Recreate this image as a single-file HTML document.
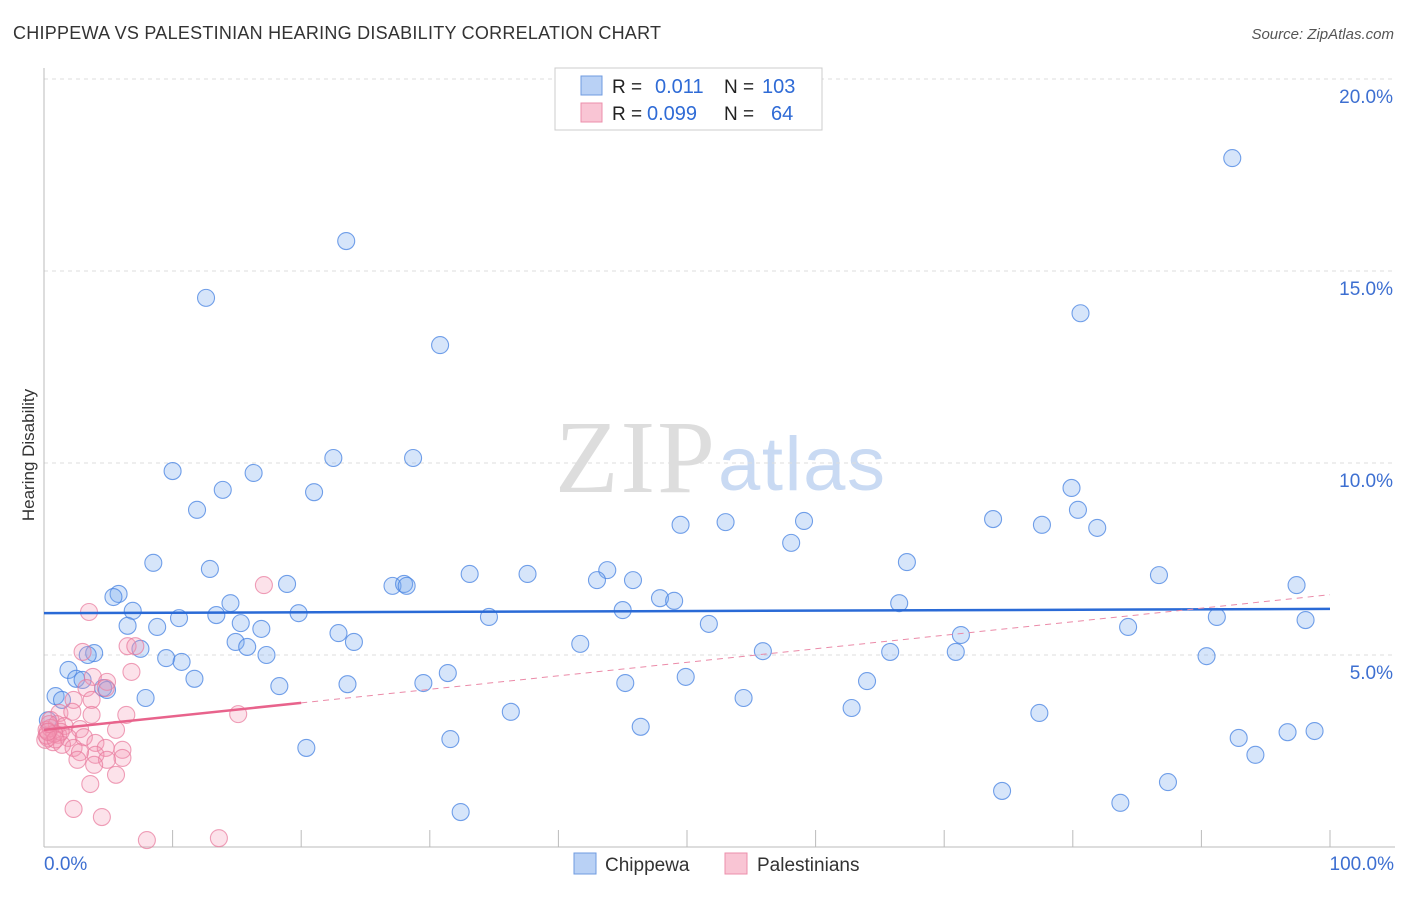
<!DOCTYPE html>
<html><head><meta charset="utf-8"><style>
body{margin:0;background:#fff;font-family:"Liberation Sans",sans-serif;}
svg text{font-family:"Liberation Sans",sans-serif;}
</style></head><body>
<svg id="chart" width="1406" height="892">
<text x="13" y="39" font-size="18" fill="#333" textLength="648">CHIPPEWA VS PALESTINIAN HEARING DISABILITY CORRELATION CHART</text>
<text x="1394" y="39" font-size="15" fill="#555" text-anchor="end" font-style="italic">Source: ZipAtlas.com</text>
<text x="34" y="455" font-size="17" fill="#333" text-anchor="middle" transform="rotate(-90 34 455)">Hearing Disability</text>
<g>
<text x="555" y="492" font-size="104" fill="#ddd" textLength="160" font-family="Liberation Serif" style="font-family:'Liberation Serif',serif">ZIP</text>
<text x="718" y="490" font-size="76" fill="#c9daf3" textLength="167">atlas</text>
</g>
<g id="grid"></g>
<g id="axes"></g>
<g id="marks"></g>
<g>
<rect x="555" y="68" width="267" height="62" fill="#fff" stroke="#ccc"/>
<rect x="581" y="76" width="21" height="19" fill="#b9d1f5" stroke="#6f9be0"/>
<rect x="581" y="103" width="21" height="19" fill="#f9c5d4" stroke="#ec8fab"/>
<text x="612" y="93" font-size="19" fill="#222">R =</text>
<text x="655" y="93" font-size="20" fill="#2f6bd6">0.011</text>
<text x="724" y="93" font-size="19" fill="#222">N =</text>
<text x="762" y="93" font-size="20" fill="#2f6bd6">103</text>
<text x="612" y="120" font-size="19" fill="#222">R =</text>
<text x="647" y="120" font-size="20" fill="#2f6bd6">0.099</text>
<text x="724" y="120" font-size="19" fill="#222">N =</text>
<text x="771" y="120" font-size="20" fill="#2f6bd6">64</text>
</g>
<g>
<rect x="574" y="853" width="22" height="21" fill="#b9d1f5" stroke="#6f9be0"/>
<text x="605" y="871" font-size="19" fill="#333">Chippewa</text>
<rect x="725" y="853" width="22" height="21" fill="#f9c5d4" stroke="#ec8fab"/>
<text x="757" y="871" font-size="19" fill="#333">Palestinians</text>
</g>
</svg>
<script>
const yTicks=[5,10,15,20];
const yTickLabels=["5.0%","10.0%","15.0%","20.0%"];
const xTickLabels=["0.0%","100.0%"];
const blueX=[92.4,23.5,12.6,80.6,30.8,10.0,16.3,22.5,28.7,13.9,21.0,11.9,79.9,80.4,73.8,77.6,81.9,49.5,53.0,59.1,58.1,67.1,8.5,12.9,33.1,37.6,43.8,43.0,45.8,86.7,97.4,18.9,27.1,28.0,28.2,5.8,5.4,47.9,49.0,14.5,66.5,6.9,19.8,13.4,45.0,34.6,10.5,91.2,98.1,6.5,8.8,15.3,16.9,22.9,51.7,84.3,71.3,14.9,24.1,15.8,7.5,41.7,3.9,3.4,17.3,55.9,65.8,70.9,90.4,9.5,10.7,1.9,31.4,49.9,2.5,3.0,11.7,64.0,23.6,29.5,45.2,18.3,4.6,4.9,0.9,1.4,7.9,54.4,62.8,36.3,77.4,46.4,31.6,92.9,96.7,98.8,20.4,94.2,87.4,74.5,83.7,32.4,0.3];
const blueY=[17.94,15.78,14.30,13.90,13.07,9.79,9.74,10.13,10.13,9.30,9.24,8.78,9.35,8.78,8.54,8.39,8.31,8.39,8.46,8.49,7.92,7.42,7.40,7.24,7.11,7.11,7.21,6.95,6.95,7.08,6.82,6.85,6.80,6.85,6.80,6.59,6.51,6.48,6.41,6.35,6.35,6.15,6.09,6.04,6.17,5.99,5.96,5.99,5.91,5.76,5.73,5.83,5.68,5.57,5.81,5.73,5.52,5.34,5.34,5.21,5.16,5.29,5.05,5.0,5.0,5.10,5.08,5.08,4.97,4.92,4.82,4.61,4.53,4.43,4.38,4.35,4.38,4.32,4.24,4.27,4.27,4.19,4.14,4.09,3.93,3.83,3.88,3.88,3.62,3.52,3.49,3.13,2.81,2.84,2.99,3.02,2.58,2.40,1.69,1.46,1.15,0.91,3.3];
const pinkX=[17.1,3.5,3.0,6.5,7.1,6.8,3.8,4.9,3.3,4.8,3.7,2.3,1.2,2.2,3.7,6.4,15.1,0.5,1.0,1.6,2.8,1.1,0.3,1.9,3.1,5.6,0.7,1.4,2.3,4.0,4.8,6.1,4.0,2.8,2.6,6.1,4.9,3.9,5.6,3.6,2.3,4.5,8.0,13.6,0.1,0.2,0.5,1.3,0.8,0.2,0.4,0.9,0.3];
const pinkY=[6.82,6.12,5.08,5.23,5.23,4.56,4.43,4.30,4.14,4.14,3.83,3.83,3.49,3.52,3.44,3.44,3.46,3.31,3.20,3.15,3.07,2.92,2.84,2.84,2.86,3.05,2.73,2.66,2.58,2.71,2.58,2.53,2.40,2.47,2.27,2.32,2.27,2.14,1.88,1.64,0.99,0.78,0.18,0.23,2.79,3.05,3.1,3.0,2.95,2.9,3.2,2.8,3.0];
const blueTrend=[6.09,6.20];
const pinkTrend=[3.05,6.57];
const NS="http://www.w3.org/2000/svg";
const X0=44,X1=1330,Y0=847,PY=38.4;
function sx(v){return X0+(X1-X0)*v/100;}
function sy(v){return Y0-v*PY;}
function mk(tag,attrs,parent){const e=document.createElementNS(NS,tag);for(const k in attrs)e.setAttribute(k,attrs[k]);parent.appendChild(e);return e;}
const grid=document.getElementById('grid'),axes=document.getElementById('axes'),marks=document.getElementById('marks');
mk('line',{x1:X0,x2:1395,y1:79,y2:79,stroke:'#ddd','stroke-dasharray':'4,4'},grid);
yTicks.forEach((t,i)=>{
 const l=mk('line',{x1:X0,x2:1395,y1:sy(t),y2:sy(t),stroke:'#ddd','stroke-dasharray':'4,4'},grid);
 
 
 const tx=mk('text',{x:1393,y:sy(t)+24,'font-size':19,fill:'#3d6fd1','text-anchor':'end'},axes);
 tx.textContent=yTickLabels[i];
 
 
});
mk('line',{x1:X0,x2:X0,y1:68,y2:Y0,stroke:'#bbb'},axes);
mk('line',{x1:X0,x2:1395,y1:Y0,y2:Y0,stroke:'#bbb'},axes);
for(let k=1;k<=10;k++){const l=mk('line',{x1:sx(k*10),x2:sx(k*10),y1:830,y2:Y0,stroke:'#bbb'},axes);
 
 }
const xl0=mk('text',{x:44,y:870,'font-size':19,fill:'#3d6fd1'},axes);xl0.textContent=xTickLabels[0];


const xl1=mk('text',{x:1394,y:870,'font-size':19,fill:'#3d6fd1','text-anchor':'end'},axes);xl1.textContent=xTickLabels[1];


blueX.forEach((v,i)=>{const c=mk('circle',{cx:sx(v),cy:sy(blueY[i]),r:8.5,fill:'rgba(120,168,238,0.3)',stroke:'rgba(70,130,225,0.75)','stroke-width':1.1},marks);
 
 });
pinkX.forEach((v,i)=>{const c=mk('circle',{cx:sx(v),cy:sy(pinkY[i]),r:8.5,fill:'rgba(245,150,178,0.28)',stroke:'rgba(232,120,155,0.7)','stroke-width':1.1},marks);
 
 });
const bt=mk('line',{x1:sx(0),x2:sx(100),y1:sy(blueTrend[0]),y2:sy(blueTrend[1]),stroke:'#2a6ad6','stroke-width':2.5},marks);


const pm=pinkTrend[0]+(pinkTrend[1]-pinkTrend[0])*0.2;
const pd=mk('line',{x1:sx(20),x2:sx(100),y1:sy(pm),y2:sy(pinkTrend[1]),stroke:'#eb8aa8','stroke-width':1,'stroke-dasharray':'6,5'},marks);


const ps=mk('line',{x1:sx(0),x2:sx(20),y1:sy(pinkTrend[0]),y2:sy(pm),stroke:'#e8638c','stroke-width':2.5},marks);


</script>
</body></html>
